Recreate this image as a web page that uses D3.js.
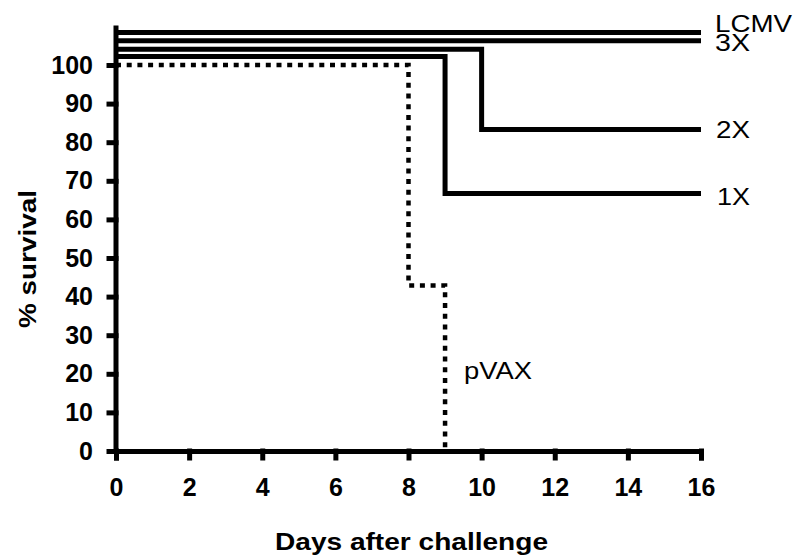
<!DOCTYPE html>
<html>
<head>
<meta charset="utf-8">
<script src="https://cdn.jsdelivr.net/npm/d3@7"></script>
<style>
  body { margin: 0; background: #fff; }
  svg { display: block; font-family: "Liberation Sans", Arial, Helvetica, sans-serif; }
  .axis path, .axis line { stroke: #000; stroke-width: 5px; stroke-linecap: square; }
  .axis text { font-size: 25px; font-weight: bold; fill: #000; }
  .series { fill: none; stroke: #000; stroke-width: 5px; }
  .series.dotted { stroke-width: 4.5px; stroke-dasharray: 5, 5.7; }
  .lbl { font-size: 23px; fill: #000; }
  .title { font-size: 24px; font-weight: bold; fill: #000; }
</style>
</head>
<body>
<div id="chart"></div>
<script>
// days after challenge and % survival
// (the 100% lines are drawn slightly stacked above 100 so they stay visible)
var lcmvDays = [0, 16];
var lcmvSurv = [108.4, 108.4];
var x3Days = [0, 16];
var x3Surv = [106.3, 106.3];
var x2Days = [0, 10, 16];
var x2Surv = [104.1, 83.3, 83.3];
var x1Days = [0, 9, 16];
var x1Surv = [102.2, 66.7, 66.7];
var pvaxDays = [0, 8, 9];
var pvaxSurv = [100, 42.9, 0];

var seriesNames = ["LCMV", "3X", "2X", "1X", "pVAX"];
var xTicks = [0, 2, 4, 6, 8, 10, 12, 14, 16];
var yTicks = [0, 10, 20, 30, 40, 50, 60, 70, 80, 90, 100];

var W = 796, H = 560;
var x = d3.scaleLinear().domain([0, 16]).range([116, 701]);
var y = d3.scaleLinear().domain([0, 100]).range([451, 65]);

var svg = d3.select("#chart").append("svg")
  .attr("width", W)
  .attr("height", H);

function pairs(days, surv) {
  return days.map(function(d, i) { return [d, surv[i]]; });
}

var series = [
  { name: "LCMV", pts: pairs(lcmvDays, lcmvSurv), dotted: false },
  { name: "3X", pts: pairs(x3Days, x3Surv), dotted: false },
  { name: "2X", pts: pairs(x2Days, x2Surv), dotted: false },
  { name: "1X", pts: pairs(x1Days, x1Surv), dotted: false },
  { name: "pVAX", pts: pairs(pvaxDays, pvaxSurv), dotted: true }
];

// axes
var xAxis = svg.append("g")
  .attr("class", "axis")
  .attr("transform", "translate(0," + y(0) + ")")
  .call(d3.axisBottom(x).tickValues(xTicks).tickSizeOuter(0).tickSize(7).tickPadding(20));

var yAxis = svg.append("g")
  .attr("class", "axis")
  .attr("transform", "translate(" + x(0) + ",0)")
  .call(d3.axisLeft(y).tickValues(yTicks).tickSizeOuter(0).tickSize(7).tickPadding(16));
// y axis line runs up past 100 to the top of the stacked lines
yAxis.select(".domain").attr("d", "M0," + y(0) + "V" + y(109.6));
xAxis.select(".domain").attr("stroke-linecap", "butt");

var line = d3.line()
  .x(function(d) { return x(d[0]); })
  .y(function(d) { return y(d[1]); })
  .curve(d3.curveStepAfter);

svg.selectAll("path.series")
  .data(series)
  .enter().append("path")
  .attr("class", function(d) { return d.dotted ? "series dotted" : "series"; })
  .attr("d", function(d) { return line(d.pts); });

// line labels: [x, baseline, text width] -- the original type is set wide
var lblPos = {
  "LCMV": [715, 31.5, 77],
  "3X": [715, 50.5, 35],
  "2X": [716, 138, 34],
  "1X": [717, 205, 33],
  "pVAX": [464, 379, 68]
};
seriesNames.forEach(function(n) {
  svg.append("text")
    .attr("class", "lbl")
    .attr("x", lblPos[n][0])
    .attr("y", lblPos[n][1])
    .attr("textLength", lblPos[n][2])
    .attr("lengthAdjust", "spacingAndGlyphs")
    .text(n);
});

svg.append("text")
  .attr("class", "title")
  .attr("x", 275)
  .attr("y", 550)
  .attr("textLength", 273)
  .attr("lengthAdjust", "spacingAndGlyphs")
  .text("Days after challenge");

svg.append("text")
  .attr("class", "title")
  .attr("transform", "translate(36,328) rotate(-90)")
  .attr("textLength", 138)
  .attr("lengthAdjust", "spacingAndGlyphs")
  .text("% survival");
</script>
</body>
</html>
